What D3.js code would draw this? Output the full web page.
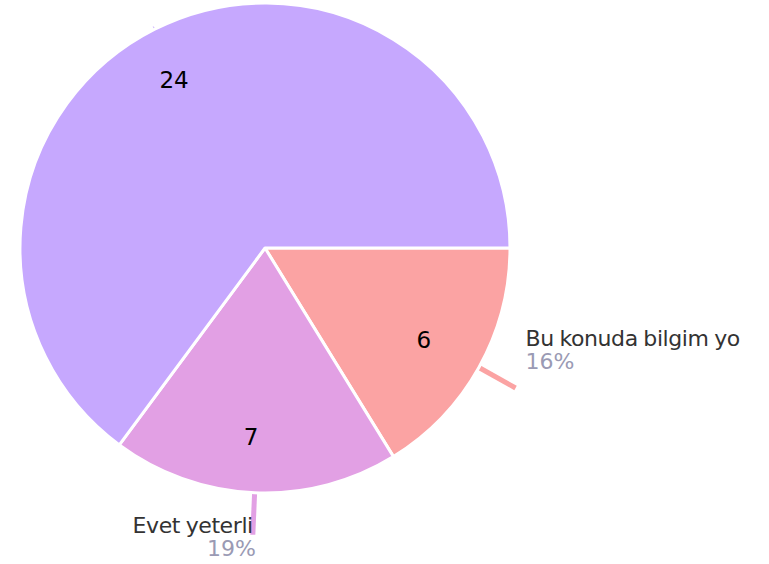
<!DOCTYPE html>
<html><head><meta charset="utf-8">
<script src="https://cdn.jsdelivr.net/npm/d3@7"></script>
<style>body{margin:0;background:#fff}</style>
</head><body>
<svg id="c" width="769" height="564"></svg>
<script>
const categories = ["Bu konuda bilgim yo", "Evet yeterli", "Hayır"];
const values = [6, 7, 24];
const colors = ["#fba3a3", "#e2a0e4", "#c6a8fe"];
const showOuter = [true, true, false];

const W = 769, H = 564, cx = 265, cy = 248, R = 245;
const svg = d3.select("#c");
const g = svg.append("g").attr("transform", `translate(${cx},${cy})`);
const total = d3.sum(values);
const pie = d3.pie().sort(null).startAngle(Math.PI/2).endAngle(Math.PI/2 + 2*Math.PI);
const arcs = pie(values);
const arc = d3.arc().innerRadius(0).outerRadius(R);
const labelArc = d3.arc().innerRadius(R*0.77).outerRadius(R*0.77);

const pt = (a, r) => [Math.sin(a)*r, -Math.cos(a)*r];
arcs.forEach((d,i) => {
  const m = (d.startAngle + d.endAngle)/2;
  const r2 = showOuter[i] ? R + 42 : R + 3;
  const p1 = pt(m, R - 2), p2 = pt(m, r2);
  g.append("line").attr("x1",p1[0]).attr("y1",p1[1]).attr("x2",p2[0]).attr("y2",p2[1])
    .attr("stroke", colors[i]).attr("stroke-width", showOuter[i] ? 5 : 1);
});

g.selectAll("path.s").data(arcs).enter().append("path")
  .attr("d", arc).attr("fill",(d,i)=>colors[i])
  .attr("stroke","#fff").attr("stroke-width",3).attr("stroke-linejoin","round");

g.selectAll("text.v").data(arcs).enter().append("text")
  .attr("transform", d => { const c = labelArc.centroid(d); return `translate(${c[0]-6},${c[1]})`; })
  .attr("text-anchor","middle").attr("dy","0.35em")
  .attr("font-family","DejaVu Sans").attr("font-size",23).attr("fill","#000")
  .text(d => d.data);

arcs.forEach((d,i) => {
  if (!showOuter[i]) return;
  const m = (d.startAngle + d.endAngle)/2;
  const p = pt(m, R + 42);
  const right = Math.sin(m) > 0.1;
  const x = right ? p[0] + 10 : p[0];
  const y1 = right ? p[1] - 42 : p[1] - 2;
  const anchor = right ? "start" : "end";
  g.append("text").attr("x", x).attr("y", y1).attr("text-anchor", anchor)
    .attr("font-family","DejaVu Sans").attr("font-size",22).attr("fill","#333")
    .attr("letter-spacing", -0.4).attr("word-spacing", -1)
    .text(categories[i]);
  g.append("text").attr("x", right ? x : x + 3).attr("y", y1 + 23).attr("text-anchor", anchor)
    .attr("font-family","DejaVu Sans").attr("font-size",22).attr("fill","#9a9ab4")
    .text(Math.round(values[i]/total*100) + "%");
});
</script>
</body></html>
